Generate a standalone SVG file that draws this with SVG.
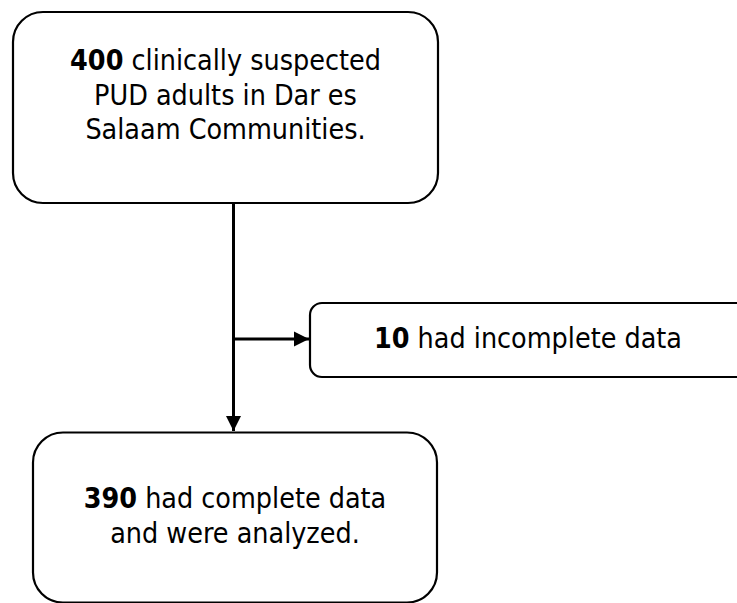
<svg xmlns="http://www.w3.org/2000/svg" width="737" height="603" viewBox="0 0 737 603">
<style>
.box{fill:#fff;stroke:#000;stroke-width:2.2}
.t{font-family:"DejaVu Sans Condensed","DejaVu Sans",Verdana,sans-serif;font-stretch:semi-condensed;font-size:28.4px;fill:#000;text-anchor:middle}
.b{font-weight:bold}
.conn{stroke:#000;stroke-width:3;fill:none}
</style>
<defs>
<marker id="ah" markerWidth="6" markerHeight="6" refX="5" refY="3" orient="auto" markerUnits="strokeWidth">
<path d="M0,0.5 L5,3 L0,5.5 Z" fill="#000"/>
</marker>
</defs>
<g id="connectors">
<line class="conn" x1="233.5" y1="203" x2="233.5" y2="431" marker-end="url(#ah)"/>
<line class="conn" x1="233.5" y1="339" x2="309" y2="339" marker-end="url(#ah)"/>
</g>
<g id="node-start">
<rect class="box" x="13" y="12" width="425" height="191" rx="30" ry="30"/>
<text class="t" x="225.5" y="70"><tspan class="b">400</tspan> clinically suspected</text>
<text class="t" x="225.5" y="104.5">PUD adults in Dar es</text>
<text class="t" x="225.5" y="139">Salaam Communities.</text>
</g>
<g id="node-excluded">
<rect class="box" x="310" y="303" width="450" height="74" rx="12" ry="12"/>
<text class="t" x="528" y="348"><tspan class="b">10</tspan> had incomplete data</text>
</g>
<g id="node-analyzed">
<rect class="box" x="33" y="432.5" width="404" height="170" rx="30" ry="30"/>
<text class="t" x="235" y="508"><tspan class="b">390</tspan> had complete data</text>
<text class="t" x="235" y="543">and were analyzed.</text>
</g>
</svg>
